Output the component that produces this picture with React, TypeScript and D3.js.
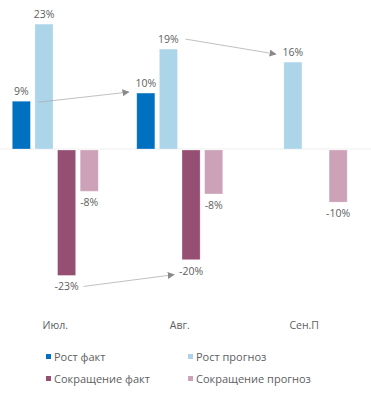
import React from 'react';
import * as d3 from 'd3';

const categories = ['Июл.', 'Авг.', 'Сен.П'];
const seriesNames = ['Рост факт', 'Рост прогноз', 'Сокращение факт', 'Сокращение прогноз'];
const seriesColors = ['#0070c0', '#acd5ea', '#954f72', '#cda2b9'];
const growthFact = [8.8, 10.3, 0];
const growthForecast = [23, 18.4, 16];
const declineFact = [-23.1, -20.2, 0];
const declineForecast = [-7.6, -8.1, -9.6];
const pctLabels = [
  ['9%', '10%', ''],
  ['23%', '19%', '16%'],
  ['-23%', '-20%', ''],
  ['-8%', '-8%', '-10%'],
];
// arrows: [fromCat, fromSeries, toCat, toSeries]
const arrows = [
  [0, 0, 1, 0],
  [1, 1, 2, 1],
  [0, 2, 1, 2],
];

const W = 371;
const H = 398;
const font = "'Open Sans', sans-serif";
const textColor = '#606060';

const App = () => {
  const values = [growthFact, growthForecast, declineFact, declineForecast];

  const x = d3.scaleBand().domain(categories).range([-7, 366.5])
    .paddingInner(0.309).paddingOuter(0.155);
  const xi = d3.scaleBand().domain(seriesNames).range([0, x.bandwidth()]).paddingInner(0.2);
  const y = d3.scaleLinear().domain([-25, 25]).range([284.75, 13.25]);

  const cx = (c, s) => x(categories[c]) + xi(seriesNames[s]) + xi.bandwidth() / 2;
  const labelY = (s, c) => {
    const v = values[s][c];
    return v >= 0 ? y(v) - 6 : y(v) + 16;
  };

  return (
    <svg width={W} height={H} style={{ position: 'absolute', left: 0, top: 0, background: '#fff' }}>
      <defs>
        <marker id="ah" viewBox="0 0 10 10" refX="9" refY="5" markerWidth="7" markerHeight="7"
          markerUnits="userSpaceOnUse" orient="auto">
          <path d="M0,0 L10,5 L0,10 z" fill="#8a8a8a" />
        </marker>
      </defs>
      <line x1={0} x2={W} y1={y(0)} y2={y(0)} stroke="#eeeeee" strokeWidth={1} />
      {values.map((vals, s) =>
        vals.map((v, c) => v !== 0 && (
          <rect key={`${s}-${c}`}
            x={x(categories[c]) + xi(seriesNames[s])}
            y={v >= 0 ? y(v) : y(0) + 1}
            width={xi.bandwidth()}
            height={Math.abs(y(v) - y(0))}
            fill={seriesColors[s]}
            stroke="#ffffff" strokeOpacity={0.35} strokeWidth={0.8} />
        ))
      )}
      {pctLabels.map((row, s) =>
        row.map((t, c) => t && (
          <text key={`l${s}-${c}`} x={cx(c, s)} y={labelY(s, c)} textAnchor="middle"
            fontFamily={font} fontSize={10.5} fill={textColor}>{t}</text>
        ))
      )}
      {arrows.map(([c0, s0, c1, s1], i) => {
        const y0 = labelY(s0, c0) - 4;
        const y1 = labelY(s1, c1) - 4;
        const x0 = cx(c0, s0) + 17;
        const x1e = cx(c1, s1) - 17;
        const yy0 = i === 0 ? y0 + 11 : y0;
        const yy1 = i === 0 ? y1 + 9 : i === 1 ? y1 + 2 : y1 + 4;
        return (
          <line key={`a${i}`} x1={x0} y1={yy0} x2={x1e} y2={yy1}
            stroke="#b0b0b0" strokeWidth={0.8} markerEnd="url(#ah)" />
        );
      })}
      {categories.map(c => (
        <text key={c} x={x(c) + x.bandwidth() / 2} y={329} textAnchor="middle"
          fontFamily={font} fontSize={10.5} fill={textColor}>{c}</text>
      ))}
      {seriesNames.map((n, i) => {
        const lx = i % 2 === 0 ? 46 : 188;
        const ly = i < 2 ? 357 : 379;
        return (
          <g key={n} transform={`translate(${lx},${ly})`}>
            <rect x={0} y={-3} width={5} height={5} fill={seriesColors[i]} />
            <text x={8} y={3.8} fontFamily={font} fontSize={11} fill={textColor}>{n}</text>
          </g>
        );
      })}
    </svg>
  );
};

export default App;
